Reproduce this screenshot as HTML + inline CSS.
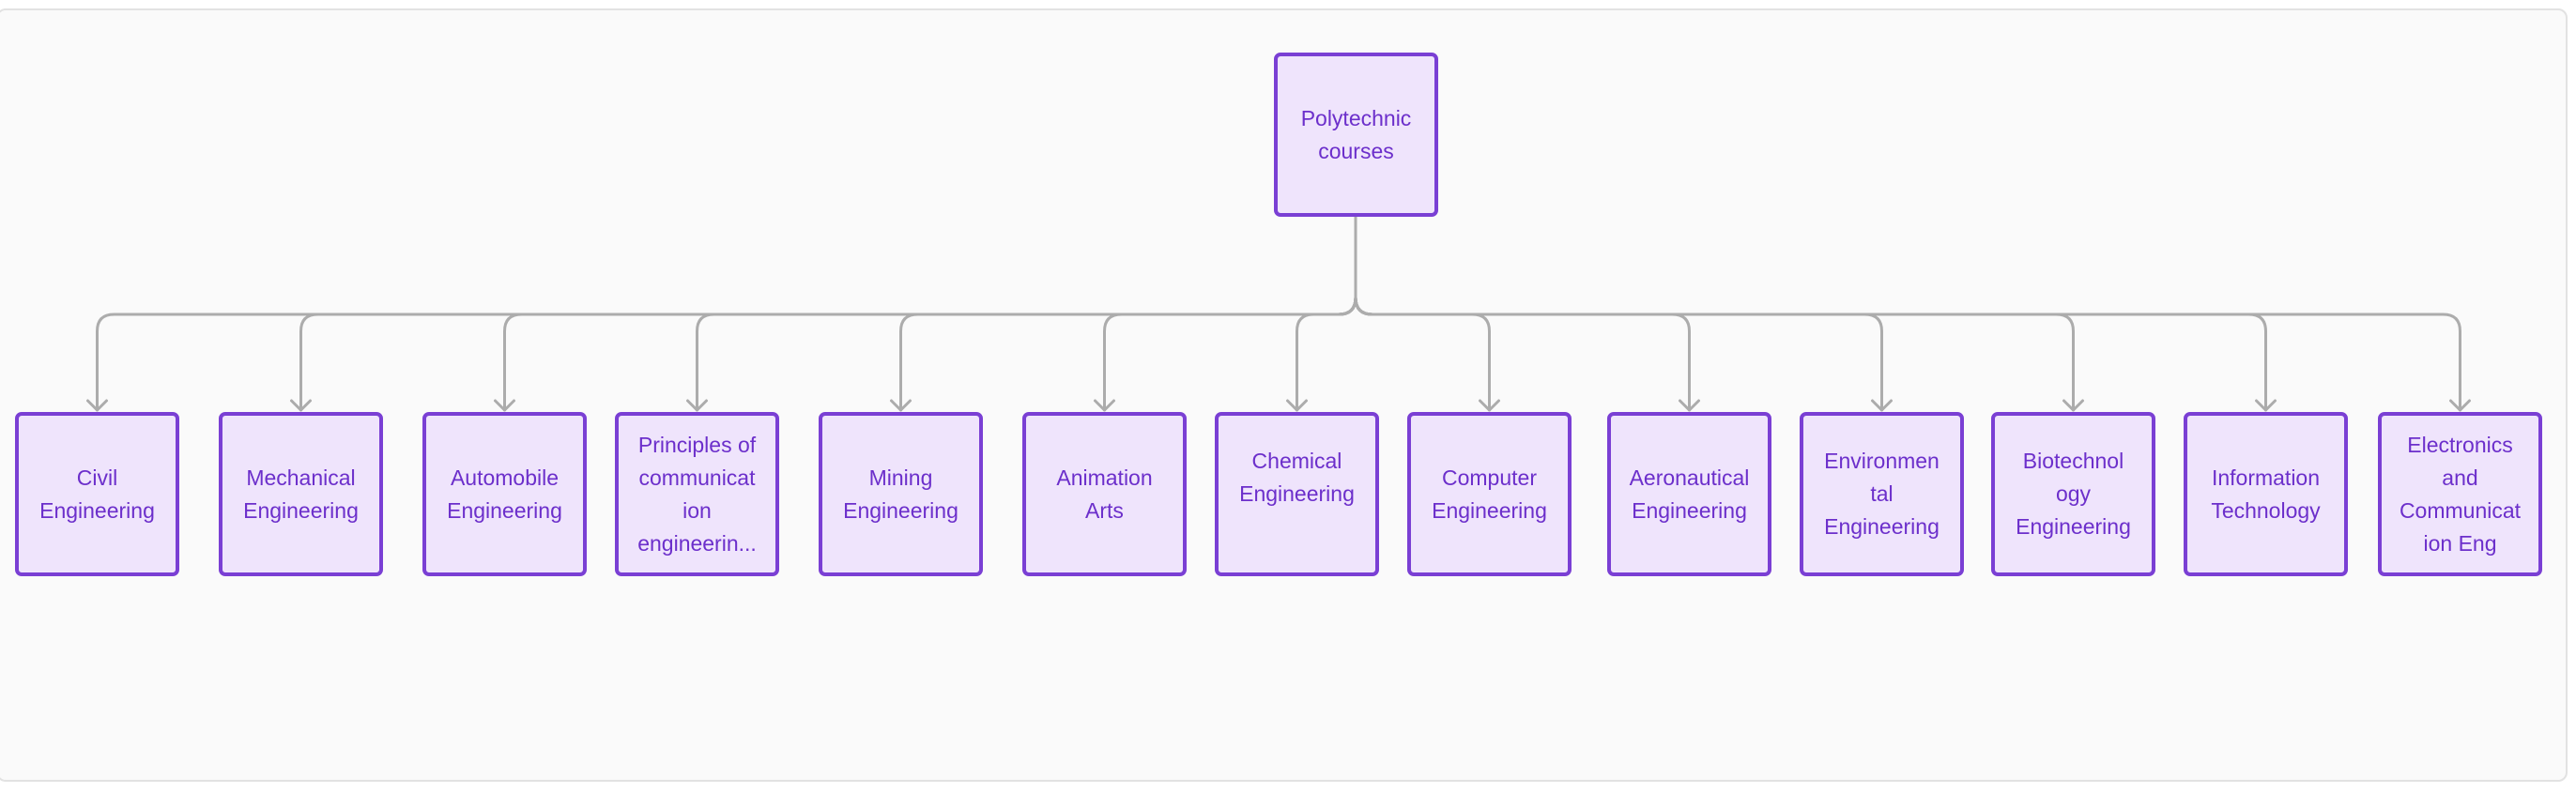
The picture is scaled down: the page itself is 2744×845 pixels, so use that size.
<!DOCTYPE html>
<html><head><meta charset="utf-8"><style>
html,body{margin:0;padding:0;background:#fff;}
body{width:2744px;height:845px;position:relative;overflow:hidden;font-family:"Liberation Sans",Arial,sans-serif;}
.frame{position:absolute;left:-4px;top:9px;width:2739px;height:824px;border:2px solid #e2e2e2;border-radius:10px;background:#fafafa;box-sizing:border-box;}
.n{position:absolute;width:175px;height:175px;box-sizing:border-box;border:4px solid #7a3fd4;border-radius:7px;background:#efe4fc;color:#6c2fcb;font-size:23px;line-height:35px;text-align:center;display:flex;align-items:center;justify-content:center;}
.n span{display:block;}
svg{position:absolute;left:0;top:0;}
</style></head><body>
<div class="frame"></div>
<svg width="2744" height="845" fill="none" stroke="#acacac" stroke-width="3" stroke-linecap="round" stroke-linejoin="round">
<g id="c"></g>
</svg>
<div id="nodes"></div>
<script>
var xs=[16,233,450,655,872,1089,1294,1499,1712,1917,2121,2326,2533];
var labels=[["Civil","Engineering"],["Mechanical","Engineering"],["Automobile","Engineering"],["Principles of","communicat","ion","engineerin..."],["Mining","Engineering"],["Animation","Arts"],["Chemical","Engineering"],["Computer","Engineering"],["Aeronautical","Engineering"],["Environmen","tal","Engineering"],["Biotechnol","ogy","Engineering"],["Information","Technology"],["Electronics","and","Communicat","ion Eng"]];
var g=document.getElementById('c'),h='',nh='';
var rx=1444,hy=335,r=18;
xs.forEach(function(x,i){
 var cx=x+87.5,d;
 if(cx<rx){d='M'+rx+' 231V'+(hy-r)+'Q'+rx+' '+hy+' '+(rx-r)+' '+hy+'H'+(cx+r)+'Q'+cx+' '+hy+' '+cx+' '+(hy+r)+'V437';}
 else{d='M'+rx+' 231V'+(hy-r)+'Q'+rx+' '+hy+' '+(rx+r)+' '+hy+'H'+(cx-r)+'Q'+cx+' '+hy+' '+cx+' '+(hy+r)+'V437';}
 h+='<path d="'+d+'"/><path d="M'+(cx-10)+' 427L'+cx+' 437L'+(cx+10)+' 427"/>';
 var pad=(i==6)?'padding-bottom:35px;':'';
 nh+='<div class="n" style="left:'+x+'px;top:439px;'+pad+'"><div>'+labels[i].map(function(t){return '<span>'+t+'</span>'}).join('')+'</div></div>';
});
g.innerHTML=h;
nh+='<div class="n" style="left:1357px;top:56px;"><div><span>Polytechnic</span><span>courses</span></div></div>';
document.getElementById('nodes').innerHTML=nh;
</script>
</body></html>
